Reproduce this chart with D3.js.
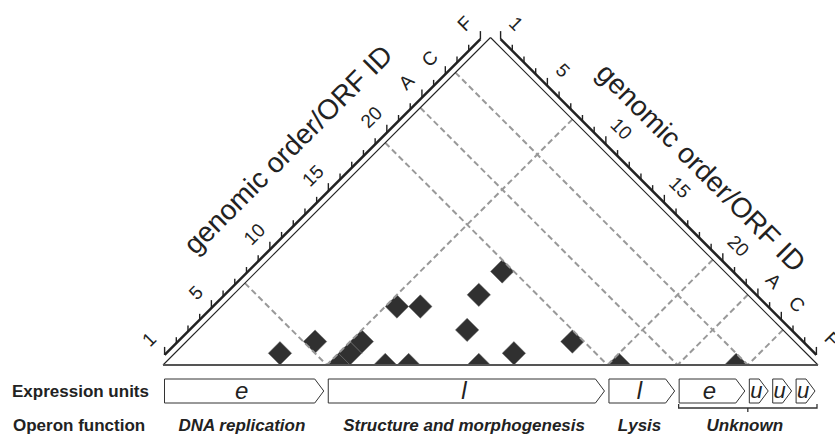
<!DOCTYPE html>
<html>
<head>
<meta charset="utf-8">
<script src="https://cdn.jsdelivr.net/npm/d3@7"></script>
<style>
  body { margin: 0; background: #fff; }
  svg { display: block; font-family: "Liberation Sans", Arial, sans-serif; }
</style>
</head>
<body>
<div id="chart"></div>
<script>
"use strict";

// ORF ids in genomic order
const orfIds = ["1","2","3","4","5","6","7","8","9","10","11","12","13","14","15",
  "16","17","18","19","20","21","22","A","B","C","D","E","F"];
const tickLabels = ["1","5","10","15","20","A","C","F"];

// observed interacting ORF pairs (genomic order index, 1-based)
const pairA = [5, 6, 8, 8, 8, 10, 11, 8, 9, 11, 11, 12, 14, 15, 17, 20, 25];
const pairB = [6, 8, 8, 9, 10, 10, 11, 13, 14, 17, 19, 15, 14, 16, 19, 20, 25];

// boundaries between operons (after this ORF)
const operonBreaks = [7, 19, 22, 25];

// expression units
const unitLabels = ["e", "l", "l", "e", "u", "u", "u"];
const unitStart = [1, 8, 20, 23, 26, 27, 28];
const unitEnd = [7, 19, 22, 25, 26, 27, 28];

// operon function
const operonNames = ["DNA replication", "Structure and morphogenesis", "Lysis", "Unknown"];
const operonStart = [1, 8, 20, 23];
const operonEnd = [7, 19, 22, 28];

const W = 835, H = 436;
const N = orfIds.length;

const svg = d3.select("#chart").append("svg")
    .attr("width", W)
    .attr("height", H);

// baseline position of a gene boundary, and height of a |i-j| offset
const x = d3.scaleLinear().domain([0, N]).range([163, 818]);
const s = (x(1) - x(0)) / 2;
const yb = 365;
const h = d3.scaleLinear().domain([0, N]).range([yb, yb - N * s]);

const leftPt = b => [x(b / 2), h(b)];
const rightPt = b => [x((N + b) / 2), h(N - b)];
const apex = leftPt(N);

// clip everything to the triangle
svg.append("defs").append("clipPath")
    .attr("id", "tri")
    .append("polygon")
    .attr("points", [[x(0), yb], apex, [x(N), yb]].map(p => p.join(",")).join(" "));

const plot = svg.append("g").attr("clip-path", "url(#tri)");

// interaction cells (diamonds)
const cells = pairA.map((a, i) => ({ a: a, b: pairB[i] }));
plot.selectAll("polygon.cell")
    .data(cells)
    .enter()
    .append("polygon")
    .attr("class", "cell")
    .attr("points", d => {
        const cx = x((d.a + d.b - 1) / 2), cy = h(Math.abs(d.a - d.b));
        return [[cx - s, cy], [cx, cy - s], [cx + s, cy], [cx, cy + s]].map(p => p.join(",")).join(" ");
    })
    .style("fill", "#303030")
    .style("stroke", "#666")
    .style("stroke-width", 0.5);

// dashed operon borders
operonBreaks.forEach(b => {
    const base = [x(b), yb];
    [leftPt(b), rightPt(b)].forEach(p => {
        svg.append("line")
            .attr("x1", p[0]).attr("y1", p[1])
            .attr("x2", base[0]).attr("y2", base[1])
            .style("stroke", "#999")
            .style("stroke-width", 2)
            .style("stroke-dasharray", "6,3.5");
    });
});

// triangle edges
svg.append("line")
    .attr("x1", x(0)).attr("y1", yb).attr("x2", apex[0]).attr("y2", apex[1])
    .style("stroke", "#222").style("stroke-width", 1.1);
svg.append("line")
    .attr("x1", apex[0]).attr("y1", apex[1]).attr("x2", x(N)).attr("y2", yb)
    .style("stroke", "#222").style("stroke-width", 1.1);
svg.append("line")
    .attr("x1", x(0)).attr("y1", yb).attr("x2", x(N)).attr("y2", yb)
    .style("stroke", "#555").style("stroke-width", 2);

// diagonal axes
const off = 6 / Math.SQRT2;
function drawAxis(pointAt, sign, rot, titleOff) {
    const g = svg.append("g");
    const p0 = pointAt(0.5), p1 = pointAt(N - 0.5);
    g.append("line")
        .attr("x1", p0[0] + sign * off).attr("y1", p0[1] - off)
        .attr("x2", p1[0] + sign * off).attr("y2", p1[1] - off)
        .style("stroke", "#222").style("stroke-width", 2.6);
    orfIds.forEach((id, i) => {
        const p = pointAt(i + 0.5);
        const px = p[0] + sign * off, py = p[1] - off;
        const major = tickLabels.includes(id);
        g.append("line")
            .attr("x1", px).attr("y1", py)
            .attr("x2", px).attr("y2", py - (major ? 8 : 6))
            .style("stroke", "#222").style("stroke-width", 1.4);
        if (major) {
            const d = 28 / Math.SQRT2;
            g.append("text")
                .attr("transform", `translate(${p[0] + sign * d},${p[1] - d}) rotate(${rot})`)
                .attr("text-anchor", "middle")
                .attr("dominant-baseline", "central")
                .style("font-size", "19px")
                .style("fill", "#222")
                .text(id);
        }
    });
    const t = pointAt(N * 0.52);
    const d = titleOff / Math.SQRT2;
    g.append("text")
        .attr("transform", `translate(${t[0] + sign * d},${t[1] - d}) rotate(${rot})`)
        .attr("text-anchor", "middle")
        .attr("dominant-baseline", "central")
        .style("font-size", "28px")
        .style("fill", "#222")
        .text("genomic order/ORF ID");
}
drawAxis(leftPt, -1, -45, 64);
drawAxis(rightPt, 1, 45, 57);

// expression units
const boxTop = 379, boxBot = 403, tip = 9;
const units = unitLabels.map((l, i) => ({ label: l, x0: x(unitStart[i] - 1) + 1.5, x1: x(unitEnd[i]) - 3 }));
const ug = svg.append("g");
ug.selectAll("path")
    .data(units)
    .enter()
    .append("path")
    .attr("d", d => {
        const ym = (boxTop + boxBot) / 2;
        return `M${d.x0},${boxTop}H${d.x1 - tip}L${d.x1},${ym}L${d.x1 - tip},${boxBot}H${d.x0}Z`;
    })
    .style("fill", "#fff")
    .style("stroke", "#333")
    .style("stroke-width", 1);
ug.selectAll("text")
    .data(units)
    .enter()
    .append("text")
    .attr("x", d => (d.x0 + d.x1 - tip) / 2 + 2)
    .attr("y", (boxTop + boxBot) / 2 - 1)
    .attr("text-anchor", "middle")
    .attr("dominant-baseline", "central")
    .style("font-size", d => d.label === "u" ? "22px" : "24px")
    .style("font-style", "italic")
    .style("fill", "#222")
    .text(d => d.label);

// bracket under the unknown operon
const bx0 = x(operonStart[3] - 1) + 1, bx1 = x(operonEnd[3]) - 1, by = 408;
svg.append("path")
    .attr("d", `M${bx0},${by - 4}V${by}H${bx1}V${by - 4}M${(bx0 + bx1) / 2},${by}V${by + 4}`)
    .style("fill", "none")
    .style("stroke", "#333")
    .style("stroke-width", 1.3);

// row titles
svg.append("text")
    .attr("x", 12).attr("y", 397)
    .style("font-size", "17px").style("font-weight", "bold").style("fill", "#222")
    .text("Expression units");
svg.append("text")
    .attr("x", 13).attr("y", 431)
    .style("font-size", "17px").style("font-weight", "bold").style("fill", "#222")
    .text("Operon function");

// operon function labels
svg.selectAll("text.operon")
    .data(operonNames)
    .enter()
    .append("text")
    .attr("class", "operon")
    .attr("x", (d, i) => (x(operonStart[i] - 1) + x(operonEnd[i])) / 2 - 3)
    .attr("y", 431)
    .attr("text-anchor", "middle")
    .style("font-size", "17px")
    .style("font-weight", "bold")
    .style("font-style", "italic")
    .style("fill", "#222")
    .text(d => d);
</script>
</body>
</html>
